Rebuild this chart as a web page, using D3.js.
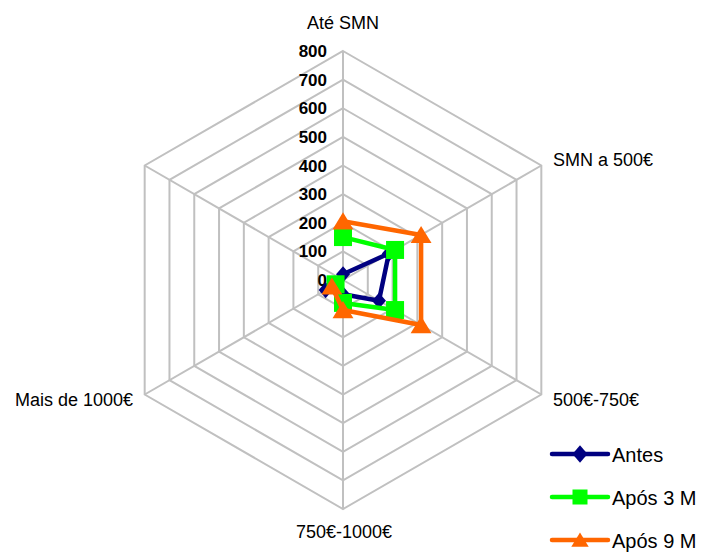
<!DOCTYPE html>
<html><head><meta charset="utf-8">
<script src="https://cdn.jsdelivr.net/npm/d3@7/dist/d3.min.js"></script>
<style>body{margin:0;background:#fff}svg{display:block}text{font-family:"Liberation Sans",Arial,sans-serif}</style>
</head><body>
<script>
const categories = ["Até SMN", "SMN a 500€", "500€-750€", "750€-1000€", "Mais de 1000€", ""];
const seriesNames = ["Antes", "Após 3 M", "Após 9 M"];
const antes = [20, 185, 145, 50, 70, null];
const apos3 = [150, 210, 210, 80, 30, null];
const apos9 = [205, 315, 315, 105, 45, null];
const tickValues = [0, 100, 200, 300, 400, 500, 600, 700, 800];

const W = 704, H = 554, cx = 343, cy = 280, R = 229;
const colors = ["#000080", "#00FF00", "#FF6600"];
const shapes = ["diamond", "square", "triangle"];
const series = [antes, apos3, apos9];

const svg = d3.select("body").append("svg").attr("width", W).attr("height", H);
const r = d3.scaleLinear().domain([0, 800]).range([0, R]);
const ang = d3.scalePoint().domain(d3.range(categories.length)).range([0, 2 * Math.PI * (categories.length - 1) / categories.length]);
const px = (i, v) => cx + r(v) * Math.sin(ang(i));
const py = (i, v) => cy - r(v) * Math.cos(ang(i));

const grid = svg.append("g").attr("stroke", "#C0C0C0").attr("stroke-width", 2).attr("fill", "none");
tickValues.filter(t => t > 0).forEach(t => {
  grid.append("path").attr("d", d3.line()(categories.map((c, i) => [px(i, t), py(i, t)])) + "Z");
});
categories.forEach((c, i) => {
  grid.append("line").attr("x1", cx).attr("y1", cy).attr("x2", px(i, 800)).attr("y2", py(i, 800));
});

// tick labels
svg.append("g").selectAll("text").data(tickValues).join("text")
  .attr("x", 327).attr("y", d => cy - r(d) + 6)
  .attr("text-anchor", "end").attr("font-weight", "bold").attr("font-size", 17)
  .text(d => d);

// category labels
const labelPos = [
  {x: 343, y: 29, a: "middle"},
  {x: 553, y: 166, a: "start"},
  {x: 553, y: 406, a: "start"},
  {x: 344, y: 538, a: "middle"},
  {x: 133, y: 406, a: "end"},
  {x: 133, y: 170, a: "end"}
];
svg.append("g").selectAll("text").data(categories).join("text")
  .attr("x", (d, i) => labelPos[i].x).attr("y", (d, i) => labelPos[i].y)
  .attr("text-anchor", (d, i) => labelPos[i].a).attr("font-size", 18).attr("fill", "#000")
  .text(d => d);

function marker(g, shape, x, y, color, s) {
  if (shape === "diamond") {
    g.append("path").attr("d", `M${x},${y - s * 0.58}L${x + s * 0.5},${y}L${x},${y + s * 0.58}L${x - s * 0.5},${y}Z`).attr("fill", color);
  } else if (shape === "square") {
    g.append("rect").attr("x", x - s / 2).attr("y", y - s / 2).attr("width", s).attr("height", s).attr("fill", color);
  } else {
    g.append("path").attr("d", `M${x},${y - s * 0.5}L${x + s * 0.58},${y + s * 0.45}L${x - s * 0.58},${y + s * 0.45}Z`).attr("fill", color);
  }
}
const mSize = [14, 18, 18];

const line = d3.line().defined(d => d.v != null).x(d => px(d.i, d.v)).y(d => py(d.i, d.v));
series.forEach((vals, k) => {
  const g = svg.append("g");
  const pts = vals.map((v, i) => ({i, v}));
  g.append("path").attr("d", line(pts)).attr("fill", "none").attr("stroke", colors[k]).attr("stroke-width", 4.5).attr("stroke-linejoin", "round");
  pts.filter(d => d.v != null).forEach(d => marker(g, shapes[k], px(d.i, d.v), py(d.i, d.v), colors[k], mSize[k]));
});

// legend
const lg = svg.append("g");
seriesNames.forEach((n, k) => {
  const y = 454 + k * 43;
  lg.append("line").attr("x1", 552).attr("x2", 608).attr("y1", y).attr("y2", y).attr("stroke", colors[k]).attr("stroke-width", 4.5).attr("stroke-linecap", "round");
  marker(lg, shapes[k], 580, y, colors[k], 15);
  lg.append("text").attr("x", 612).attr("y", y + 8).attr("font-size", 20).text(n);
});
</script>
</body></html>
